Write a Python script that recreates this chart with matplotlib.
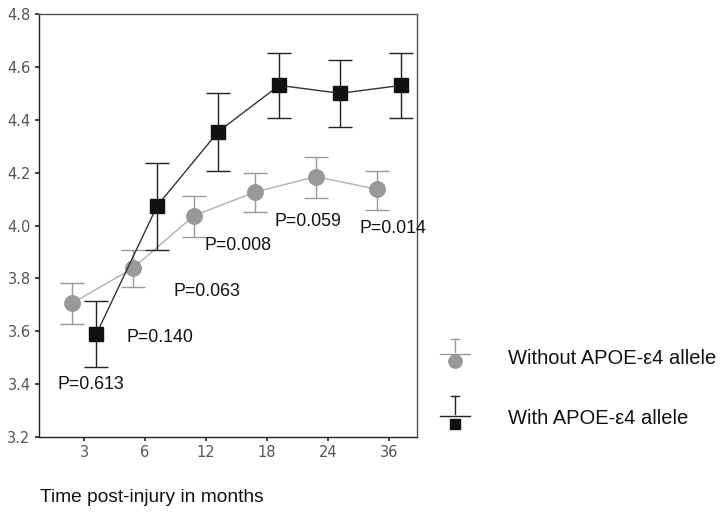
import matplotlib
matplotlib.use("Agg")
import matplotlib.pyplot as plt
import numpy as np
from matplotlib.lines import Line2D

plt.rcParams['font.family'] = ['Liberation Sans', 'DejaVu Sans']

months = ["3", "6", "12", "18", "24", "36"]
without_mean = [3.706, 3.838, 4.037, 4.126, 4.185, 4.137]
without_upper = [3.784, 3.907, 4.113, 4.199, 4.258, 4.206]
without_lower = [3.628, 3.769, 3.957, 4.050, 4.104, 4.059]
with_mean = [3.589, 4.075, 4.355, 4.530, 4.500, 4.530]
with_upper = [3.715, 4.235, 4.500, 4.653, 4.626, 4.653]
with_lower = [3.466, 3.907, 4.207, 4.407, 4.374, 4.407]
p_labels = ["P=0.613", "P=0.140", "P=0.063", "P=0.008", "P=0.059", "P=0.014"]
p_x = [-0.44, 0.70, 1.46, 1.97, 3.13, 4.52]
p_y = [3.397, 3.575, 3.749, 3.926, 4.017, 3.987]

fig = plt.figure(figsize=(7.25, 5.12), dpi=100)
ax = fig.add_axes([39/725, 1-437/512, (417-39)/725, (437-14)/512])

x = np.arange(len(months))
xw = x - 0.2
xs = x + 0.2

wm = np.array(without_mean)
err_w = [wm - np.array(without_lower), np.array(without_upper) - wm]
sm = np.array(with_mean)
err_s = [sm - np.array(with_lower), np.array(with_upper) - sm]

ax.errorbar(xw, wm, yerr=err_w, fmt='none', ecolor='#9a9a9a', elinewidth=1.0,
            capsize=8.3, capthick=1.0, zorder=2)
ax.plot(xw, wm, color='#b0b0b0', lw=1.0, zorder=3)
ax.plot(xw, wm, 'o', color='#999999', markersize=11.5, markeredgecolor='#8c8c8c',
        markeredgewidth=0.5, zorder=4, linestyle='none')

ax.errorbar(xs, sm, yerr=err_s, fmt='none', ecolor='#222222', elinewidth=1.0,
            capsize=8.6, capthick=1.0, zorder=5)
ax.plot(xs, sm, color='#333333', lw=1.0, zorder=6)
ax.plot(xs, sm, 's', color='#111111', markersize=10, zorder=7, linestyle='none')

for lab, px, py in zip(p_labels, p_x, p_y):
    ax.text(px, py, lab, fontsize=12.8, color='#111111', ha='left', va='center', zorder=8)

ax.set_xlim(-0.74, 5.46)
ax.set_ylim(3.2, 4.8)
ax.set_xticks(x)
ax.set_xticklabels(months, family='DejaVu Sans')
ax.set_yticks([3.2, 3.4, 3.6, 3.8, 4.0, 4.2, 4.4, 4.6, 4.8])
ax.set_yticklabels(["3.2", "3.4", "3.6", "3.8", "4.0", "4.2", "4.4", "4.6", "4.8"],
                   family='DejaVu Sans')
ax.tick_params(axis='both', direction='out', length=3, width=1.2, colors='#222222',
               labelsize=10.5, labelcolor='#555555', pad=3)
for sp in ax.spines.values():
    sp.set_color('#555555')
    sp.set_linewidth(1.0)
ax.spines['left'].set_color('#222222')
ax.spines['bottom'].set_color('#222222')

# x label
fig.text(40/725, 1-497/512, "Time post-injury in months", fontsize=13.8, color='#111111',
         ha='left', va='center')

# legend (manual, SPSS style)
def fx(px):
    return px/725
def fy(py):
    return 1-py/512

cx = 455
# Without
fig.add_artist(Line2D([fx(cx), fx(cx)], [fy(339), fy(352)], color='#9a9a9a', lw=1.0))
fig.add_artist(Line2D([fx(cx-4), fx(cx+4)], [fy(339), fy(339)], color='#9a9a9a', lw=1.0))
fig.add_artist(Line2D([fx(cx-15), fx(cx+15)], [fy(354), fy(354)], color='#9a9a9a', lw=1.0))
fig.add_artist(Line2D([fx(cx)], [fy(361)], marker='o', color='#999999', markersize=10,
                      markeredgecolor='#8c8c8c', markeredgewidth=0.5, linestyle='none'))
fig.text(fx(508), fy(358), "Without APOE-ε4 allele", fontsize=14.5, color='#111111',
         ha='left', va='center')

# With
fig.add_artist(Line2D([fx(cx), fx(cx)], [fy(396), fy(414)], color='#222222', lw=1.0))
fig.add_artist(Line2D([fx(cx-4), fx(cx+4)], [fy(396), fy(396)], color='#222222', lw=1.0))
fig.add_artist(Line2D([fx(cx-15), fx(cx+15)], [fy(416), fy(416)], color='#222222', lw=1.0))
fig.add_artist(Line2D([fx(cx)], [fy(424)], marker='s', color='#111111', markersize=7,
                      linestyle='none'))
fig.text(fx(508), fy(419), "With APOE-ε4 allele", fontsize=14.5, color='#111111',
         ha='left', va='center')

fig.savefig("out.png", dpi=100)
